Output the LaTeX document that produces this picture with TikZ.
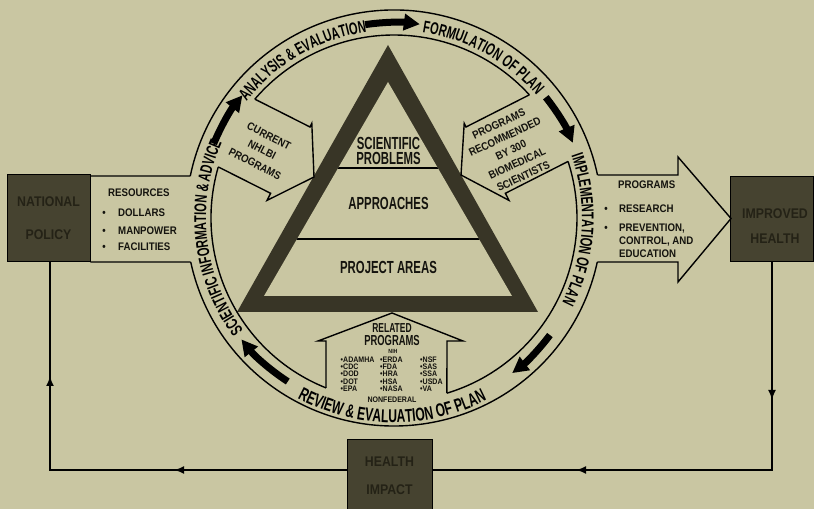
\documentclass[tikz,border=0pt]{standalone}
\usepackage{fontspec}
\setmainfont{Liberation Sans}
\newfontfamily\fA{Liberation Sans}[FakeStretch=0.65]
\newfontfamily\fC{Liberation Sans}[FakeStretch=0.88]
\usetikzlibrary{arrows.meta,decorations.text,calc}
\definecolor{bg}{RGB}{201,198,162}
\definecolor{boxc}{RGB}{70,67,48}
\definecolor{tri}{RGB}{56,53,38}
\definecolor{ink}{RGB}{20,19,14}
\definecolor{boxink}{RGB}{36,34,22}
\newcommand\ringfont{\fA\bfseries\fontsize{17bp}{17bp}\selectfont}
\newcommand\ringfontb{\fA\bfseries\fontsize{18.5bp}{18.5bp}\selectfont}
\tikzset{
  ring/.style={draw=black, line width=1.4},
  box/.style={fill=boxc, draw=black, line width=1},
  sm/.style={font=\fC\bfseries\fontsize{11bp}{13bp}\selectfont, text=ink, inner sep=0},
  smr/.style={font=\fC\bfseries\fontsize{11bp}{15.5bp}\selectfont, text=ink, inner sep=0, align=center},
  big/.style={font=\fA\bfseries\fontsize{17.5bp}{19bp}\selectfont, text=ink, inner sep=0},
  boxtxt/.style={font=\fC\bfseries\fontsize{14bp}{16bp}\selectfont, text=boxink, inner sep=0},
  tiny/.style={font=\fC\bfseries\fontsize{8bp}{9bp}\selectfont, text=ink, inner sep=0},
  ringarrow/.style={line width=7bp, -{Triangle[length=16bp,width=16bp]}},
  fb/.style={draw=black, line width=2bp},
  fbtip/.style={fb, -{Latex[length=10bp,width=8bp]}},
}
\begin{document}
\begin{tikzpicture}[x=1bp,y=1bp]
\useasboundingbox (0,0) rectangle (814,509);
\fill[bg] (0,0) rectangle (814,509);
\coordinate (C) at (394,291);

% triangle
\fill[tri] (388,464) -- (237,197) -- (538,197) -- cycle;
\fill[bg] (388,427) -- (264,213) -- (512,213) -- cycle;
\begin{scope}
  \clip (388,427) -- (264,213) -- (512,213) -- cycle;
  \draw[line width=1.1bp] (200,341) -- (600,341);
  \draw[line width=1.1bp] (200,270) -- (600,270);
\end{scope}
\node[big, anchor=base] (tSci) at (388.5,359) {SCIENTIFIC};
\node[big, anchor=base] (tProb) at (388.5,344) {PROBLEMS};
\node[big, anchor=base] (tAppr) at (388.5,299) {APPROACHES};
\node[big, anchor=base] (tProj) at (388.5,235) {PROJECT AREAS};

% ring borders
\draw[ring] ($(C)+(11.93:208)$) arc[start angle=11.93, end angle=168.35, radius=208];
\draw[ring] ($(C)+(192.21:208)$) arc[start angle=192.21, end angle=347.79, radius=208];
\draw[ring] ($(C)+(42.3:183)$) arc[start angle=42.3, end angle=139.5, radius=183];
\draw[ring] ($(C)+(163.8:183)$) arc[start angle=163.8, end angle=248.2, radius=183];
\draw[ring] ($(C)+(286.8:183)$) arc[start angle=286.8, end angle=378, radius=183];

% boxes
\node[box, minimum width=83bp, minimum height=87bp] (NP) at (48.5,290.5) {};
\node[box, minimum width=83bp, minimum height=85bp] (IH) at (771.5,289.5) {};
\node[box, minimum width=85bp, minimum height=76bp] (HI) at (389.5,31) {};
\node[boxtxt, anchor=base] (tNat) at (48.5,302.3) {NATIONAL};
\node[boxtxt, anchor=base] (tPol) at (48.5,269) {POLICY};
\node[boxtxt, anchor=base] (tImp) at (775,290.7) {IMPROVED};
\node[boxtxt, anchor=base] (tHea) at (775,265.7) {HEALTH};
\node[boxtxt, anchor=base] (tHI1) at (389.5,42.3) {HEALTH};
\node[boxtxt, anchor=base] (tHI2) at (389.5,14) {IMPACT};

% resources band
\draw[ring] (NP.east |- {(0,333)}) -- ($(C)+(168.35:208)$);
\draw[ring] (NP.east |- {(0,247)}) -- ($(C)+(192.21:208)$);
\node[sm, anchor=base west] (tRes) at (108,312) {RESOURCES};
\node[sm, anchor=base] (bR1) at (104,292) {•};
\node[sm, anchor=base west] (tDol) at (118,292) {DOLLARS};
\node[sm, anchor=base] (bR2) at (104,274.5) {•};
\node[sm, anchor=base west] (tMan) at (118,274.5) {MANPOWER};
\node[sm, anchor=base] (bR3) at (104,258) {•};
\node[sm, anchor=base west] (tFac) at (118,258) {FACILITIES};

% programs arrow
\draw[ring] ($(C)+(11.93:208)$) -- (678,334) -- (678,352) -- (731,290.5) -- (678,227) -- (678,247) -- ($(C)+(-12.21:208)$);
\node[sm, anchor=base west] (tPrg) at (618,320.7) {PROGRAMS};
\node[sm, anchor=base] (bP1) at (606,296) {•};
\node[sm, anchor=base west] (tRsch) at (619,296) {RESEARCH};
\node[sm, anchor=base] (bP2) at (606,277.3) {•};
\node[sm, anchor=base west] (tPrev) at (619,277.3) {PREVENTION,};
\node[sm, anchor=base west] (tCtl) at (619,264) {CONTROL, AND};
\node[sm, anchor=base west] (tEdu) at (619,251.5) {EDUCATION};

% current NHLBI arrow
\draw[ring] ($(C)+(139.5:183)$) -- (310,382) -- (311.8,385.6) -- (314,332) -- (267,308.6) -- (270.6,315.7) -- ($(C)+(163.8:183)$);
\node[smr, rotate=-27] (tCur) at (262,359) {CURRENT\\NHLBI\\PROGRAMS};

% recommended arrow
\draw[ring] ($(C)+(42.3:183)$) -- (466,382) -- (464.2,385.6) -- (461,334) -- (509,308.6) -- (505.4,315.7) -- ($(C)+(18:183)$);
\node[smr, rotate=25, font=\fC\bfseries\fontsize{11bp}{14.5bp}\selectfont] (tRec) at (511,359) {PROGRAMS\\RECOMMENDED\\BY 300\\BIOMEDICAL\\SCIENTISTS};

% related programs arrow
\draw[ring] ($(C)+(248.2:183)$) -- (326,168) -- (318,168) -- (392,196) -- (463,168) -- (447,168) -- ($(C)+(286.8:183)$);
\node[font=\fA\bfseries\fontsize{13bp}{13bp}\selectfont, text=ink, inner sep=0, anchor=base] (tRel) at (392,176) {RELATED};
\node[font=\fA\bfseries\fontsize{14.5bp}{14bp}\selectfont, text=ink, inner sep=0, anchor=base] (tRelP) at (392,163.5) {PROGRAMS};
\node[font=\fC\bfseries\fontsize{6bp}{6bp}\selectfont, text=ink, inner sep=0, anchor=base] (tNIH) at (393,155) {NIH};
\node[tiny, anchor=base west] (a1) at (340.5,146.7) {•ADAMHA};
\node[tiny, anchor=base west] (a2) at (340.5,139.3) {•CDC};
\node[tiny, anchor=base west] (a3) at (340.5,132) {•DOD};
\node[tiny, anchor=base west] (a4) at (340.5,124.7) {•DOT};
\node[tiny, anchor=base west] (a5) at (340.5,117) {•EPA};
\node[tiny, anchor=base west] (b1) at (380,146.7) {•ERDA};
\node[tiny, anchor=base west] (b2) at (380,139.3) {•FDA};
\node[tiny, anchor=base west] (b3) at (380,132) {•HRA};
\node[tiny, anchor=base west] (b4) at (380,124.7) {•HSA};
\node[tiny, anchor=base west] (b5) at (380,117) {•NASA};
\node[tiny, anchor=base west] (c1) at (420,146.7) {•NSF};
\node[tiny, anchor=base west] (c2) at (420,139.3) {•SAS};
\node[tiny, anchor=base west] (c3) at (420,132) {•SSA};
\node[tiny, anchor=base west] (c4) at (420,124.7) {•USDA};
\node[tiny, anchor=base west] (c5) at (420,117) {•VA};
\node[tiny, anchor=base] (tNonf) at (392,106.5) {NONFEDERAL};

% ring arrows
\draw[ringarrow] ($(C)+(98.5:195.5)$) arc[start angle=98.5, end angle=82.4, radius=195.5];
\draw[ringarrow] ($(C)+(38.5:194)$) arc[start angle=38.5, end angle=22.8, radius=194];
\draw[ringarrow] ($(C)+(-36.9:195)$) arc[start angle=-36.9, end angle=-52.7, radius=195];
\draw[ringarrow] ($(C)+(-123:195)$) arc[start angle=-123, end angle=-141.5, radius=195];
\draw[ringarrow] ($(C)+(157.6:195)$) arc[start angle=157.6, end angle=141, radius=195];

% ring texts
\path[decorate, decoration={text along path, text align=center, text={|\ringfont|ANALYSIS {\&} EVALUATION}}]
  ($(C)+(145:188)$) arc[start angle=145, end angle=95, radius=188];
\path[decorate, decoration={text along path, text align=center, text={|\ringfont|FORMULATION OF PLAN}}]
  ($(C)+(86:188)$) arc[start angle=86, end angle=36, radius=188];
\path[decorate, decoration={text along path, text align=center, text={|\ringfont|IMPLEMENTATION OF PLAN}}]
  ($(C)+(26.4:188)$) arc[start angle=26.4, end angle=-33.6, radius=188];
\path[decorate, decoration={text along path, text align=center, text={|\ringfontb|REVIEW {\&} EVALUATION OF PLAN}}]
  ($(C)+(-125.6:204.5)$) arc[start angle=-125.6, end angle=-55.6, radius=204.5];
\path[decorate, decoration={text along path, text align=center, text={|\ringfont|SCIENTIFIC INFORMATION {\&} ADVICE}}]
  ($(C)+(222:188)$) arc[start angle=222, end angle=151, radius=188];

% feedback loop
\coordinate (fR) at (772,39);
\coordinate (fL) at (50,39);
\draw[fb] (IH.south -| fR) -- (fR) -- (HI.east |- fR);
\draw[fb] (HI.west |- fL) -- (fL) -- (NP.south -| fL);
\draw[fbtip] (IH.south -| fR) -- ($(fR)+(0,70)$);
\draw[fbtip] (fR) -- (576,39);
\draw[fbtip] (HI.west |- fL) -- (174,39);
\draw[fbtip] (fL) -- (50,133);
\end{tikzpicture}
\end{document}
